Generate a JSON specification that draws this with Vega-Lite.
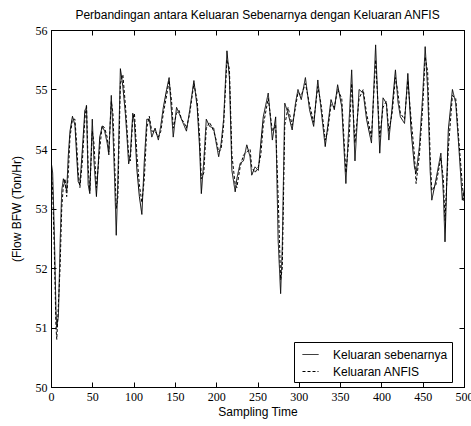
{
  "$schema": "https://vega.github.io/schema/vega-lite/v6.json",
  "width": 413,
  "height": 357,
  "autosize": {"type": "none"},
  "padding": {"left": 51, "top": 30, "right": 7, "bottom": 39},
  "background": "white",
  "config": {
    "font": "Liberation Sans",
    "view": {"stroke": "black", "strokeWidth": 1},
    "axis": {"grid": false, "domainColor": "black", "tickColor": "black", "labelColor": "black", "titleColor": "black", "labelFont": "Liberation Sans Narrow", "labelFontSize": 12, "titleFontSize": 12, "titleFontWeight": "normal", "tickSize": -5, "labelPadding": 9, "labelFlush": false, "labelOverlap": false}
  },
  "title": {"text": "Perbandingan antara Keluaran Sebenarnya dengan Keluaran ANFIS", "fontSize": 12, "fontWeight": "normal", "color": "black", "anchor": "middle", "offset": 2},
  "data": {"values": [
    {"t":0,"a":53.8,"b":53.7},{"t":2,"a":53.6,"b":53.3},{"t":4,"a":52.6,"b":52.3},{"t":6,"a":51.3,"b":51.0},{"t":7,"a":51.0,"b":50.8},
    {"t":9,"a":51.2,"b":51.4},{"t":11,"a":52.4,"b":52.0},{"t":13,"a":53.3,"b":53.0},{"t":15,"a":53.5,"b":53.4},{"t":17,"a":53.4,"b":53.5},
    {"t":19,"a":53.3,"b":53.2},{"t":21,"a":53.9,"b":53.6},{"t":23,"a":54.3,"b":54.2},{"t":26,"a":54.55,"b":54.5},{"t":29,"a":54.4,"b":54.5},
    {"t":31,"a":53.9,"b":54.1},{"t":33,"a":53.45,"b":53.6},{"t":35,"a":53.4,"b":53.35},{"t":38,"a":54.0,"b":53.8},{"t":41,"a":54.65,"b":54.5},
    {"t":43,"a":54.7,"b":54.75},{"t":45,"a":53.4,"b":53.7},{"t":47,"a":53.25,"b":53.3},{"t":50,"a":54.5,"b":54.3},{"t":52,"a":53.8,"b":54.1},
    {"t":55,"a":53.2,"b":53.35},{"t":59,"a":54.2,"b":54.0},{"t":62,"a":54.38,"b":54.4},{"t":65,"a":54.3,"b":54.35},{"t":68,"a":54.1,"b":54.2},
    {"t":70,"a":53.9,"b":53.95},{"t":73,"a":54.9,"b":54.8},{"t":75,"a":54.3,"b":54.6},{"t":77,"a":53.5,"b":53.8},{"t":79,"a":52.55,"b":53.0},
    {"t":81,"a":53.5,"b":53.2},{"t":84,"a":55.35,"b":55.1},{"t":87,"a":55.05,"b":55.25},{"t":90,"a":54.6,"b":54.75},{"t":92,"a":54.2,"b":54.35},
    {"t":94,"a":53.75,"b":53.9},{"t":96,"a":53.9,"b":53.8},{"t":99,"a":54.6,"b":54.5},{"t":101,"a":54.45,"b":54.6},{"t":104,"a":53.65,"b":53.9},
    {"t":107,"a":53.2,"b":53.4},{"t":110,"a":52.9,"b":53.1},{"t":113,"a":53.8,"b":53.5},{"t":116,"a":54.5,"b":54.35},{"t":119,"a":54.5,"b":54.55},
    {"t":122,"a":54.2,"b":54.3},{"t":126,"a":54.35,"b":54.3},{"t":130,"a":54.15,"b":54.2},{"t":133,"a":54.4,"b":54.3},{"t":136,"a":54.7,"b":54.6},
    {"t":140,"a":55.0,"b":54.9},{"t":143,"a":55.2,"b":55.15},{"t":146,"a":54.6,"b":54.8},{"t":148,"a":54.2,"b":54.35},{"t":152,"a":54.7,"b":54.6},
    {"t":155,"a":54.6,"b":54.65},{"t":158,"a":54.5,"b":54.5},{"t":161,"a":54.4,"b":54.45},{"t":164,"a":54.3,"b":54.35},{"t":168,"a":54.66,"b":54.6},
    {"t":173,"a":55.15,"b":55.1},{"t":177,"a":54.7,"b":54.8},{"t":180,"a":54.0,"b":54.2},{"t":182,"a":53.25,"b":53.5},{"t":185,"a":53.8,"b":53.6},
    {"t":188,"a":54.5,"b":54.35},{"t":192,"a":54.38,"b":54.45},{"t":197,"a":54.35,"b":54.3},{"t":200,"a":54.1,"b":54.15},{"t":203,"a":53.87,"b":53.95},
    {"t":206,"a":54.1,"b":54.0},{"t":209,"a":54.5,"b":54.4},{"t":213,"a":55.65,"b":55.5},{"t":216,"a":55.2,"b":55.35},{"t":219,"a":53.64,"b":53.9},
    {"t":223,"a":53.28,"b":53.4},{"t":225,"a":53.5,"b":53.35},{"t":229,"a":53.76,"b":53.7},{"t":233,"a":53.8,"b":53.9},{"t":237,"a":54.07,"b":53.95},
    {"t":241,"a":53.87,"b":54.0},{"t":243,"a":53.56,"b":53.7},{"t":247,"a":53.7,"b":53.6},{"t":251,"a":53.64,"b":53.7},{"t":254,"a":54.1,"b":53.9},
    {"t":257,"a":54.54,"b":54.4},{"t":263,"a":54.94,"b":54.85},{"t":268,"a":54.15,"b":54.3},{"t":272,"a":54.54,"b":54.4},{"t":275,"a":52.47,"b":53.2},
    {"t":278,"a":51.57,"b":51.8},{"t":280,"a":52.36,"b":52.0},{"t":283,"a":54.77,"b":54.4},{"t":287,"a":54.6,"b":54.7},{"t":292,"a":54.32,"b":54.4},
    {"t":296,"a":54.77,"b":54.7},{"t":299,"a":55.0,"b":54.95},{"t":303,"a":54.83,"b":54.9},{"t":308,"a":55.2,"b":55.1},{"t":313,"a":54.66,"b":54.75},
    {"t":318,"a":54.38,"b":54.45},{"t":323,"a":55.16,"b":55.05},{"t":327,"a":54.66,"b":54.75},{"t":332,"a":54.04,"b":54.15},{"t":335,"a":54.38,"b":54.3},
    {"t":339,"a":54.83,"b":54.75},{"t":343,"a":54.66,"b":54.7},{"t":347,"a":55.08,"b":55.0},{"t":352,"a":54.71,"b":54.85},{"t":357,"a":53.42,"b":53.6},
    {"t":361,"a":54.5,"b":54.2},{"t":364,"a":55.33,"b":55.1},{"t":368,"a":53.8,"b":54.1},{"t":373,"a":55.0,"b":54.85},{"t":378,"a":54.94,"b":55.0},
    {"t":382,"a":54.5,"b":54.6},{"t":388,"a":54.1,"b":54.2},{"t":393,"a":55.75,"b":55.5},{"t":398,"a":53.93,"b":54.2},{"t":402,"a":54.86,"b":54.7},
    {"t":406,"a":54.77,"b":54.8},{"t":409,"a":54.15,"b":54.3},{"t":413,"a":54.7,"b":54.6},{"t":417,"a":55.33,"b":55.2},{"t":420,"a":54.8,"b":54.95},
    {"t":423,"a":54.54,"b":54.6},{"t":428,"a":54.43,"b":54.5},{"t":432,"a":55.27,"b":55.15},{"t":436,"a":54.3,"b":54.5},{"t":440,"a":53.7,"b":53.9},
    {"t":442,"a":53.59,"b":53.42},{"t":446,"a":54.04,"b":53.9},{"t":450,"a":54.9,"b":54.7},{"t":453,"a":55.72,"b":55.55},{"t":456,"a":55.0,"b":55.3},
    {"t":459,"a":53.64,"b":53.9},{"t":461,"a":53.14,"b":53.3},{"t":466,"a":53.48,"b":53.4},{"t":472,"a":53.93,"b":53.85},{"t":475,"a":53.25,"b":53.5},
    {"t":477,"a":52.44,"b":52.8},{"t":481,"a":54.32,"b":54.0},{"t":486,"a":55.0,"b":54.9},{"t":490,"a":54.77,"b":54.85},{"t":494,"a":53.98,"b":54.1},
    {"t":498,"a":53.14,"b":53.4},{"t":500,"a":53.3,"b":53.1}
  ]},
  "transform": [
    {"fold": ["a", "b"], "as": ["key", "value"]},
    {"lookup": "key", "from": {"data": {"values": [{"key": "a", "series": "Keluaran sebenarnya"}, {"key": "b", "series": "Keluaran ANFIS"}]}, "key": "key", "fields": ["series"]}}
  ],
  "layer": [
    {
      "mark": {"type": "line", "strokeWidth": 1, "clip": true, "color": "black"},
      "encoding": {
        "x": {"field": "t", "type": "quantitative", "scale": {"domain": [0, 500], "nice": false}, "axis": {"values": [0,50,100,150,200,250,300,350,400,450,500], "title": "Sampling Time", "titlePadding": 4}},
        "y": {"field": "value", "type": "quantitative", "scale": {"domain": [50, 56], "nice": false, "zero": false}, "axis": {"values": [50,51,52,53,54,55,56], "title": "(Flow BFW (Ton/Hr)", "titlePadding": 12}},
        "strokeDash": {"field": "series", "type": "nominal", "scale": {"domain": ["Keluaran sebenarnya", "Keluaran ANFIS"], "range": [[1, 0], [3, 2]]},
          "legend": {"title": null, "orient": "none", "legendX": 243, "legendY": 312, "symbolType": "stroke", "symbolSize": 256, "symbolStrokeColor": "black", "symbolStrokeWidth": 1, "labelFontSize": 12, "labelFont": "Liberation Sans", "labelColor": "black", "strokeColor": "black", "fillColor": "white", "padding": 4, "rowPadding": 2, "labelOffset": 14, "symbolOffset": 4}}
      }
    },
    {
      "mark": {"type": "point", "opacity": 0},
      "encoding": {
        "x": {"field": "t", "type": "quantitative", "scale": {"domain": [0, 500], "nice": false}, "axis": {"orient": "top", "values": [0,50,100,150,200,250,300,350,400,450,500], "labels": false, "title": null}},
        "y": {"field": "value", "type": "quantitative", "scale": {"domain": [50, 56], "nice": false, "zero": false}, "axis": {"orient": "right", "values": [50,51,52,53,54,55,56], "labels": false, "title": null}}
      }
    }
  ],
  "resolve": {"axis": {"x": "independent", "y": "independent"}}
}
